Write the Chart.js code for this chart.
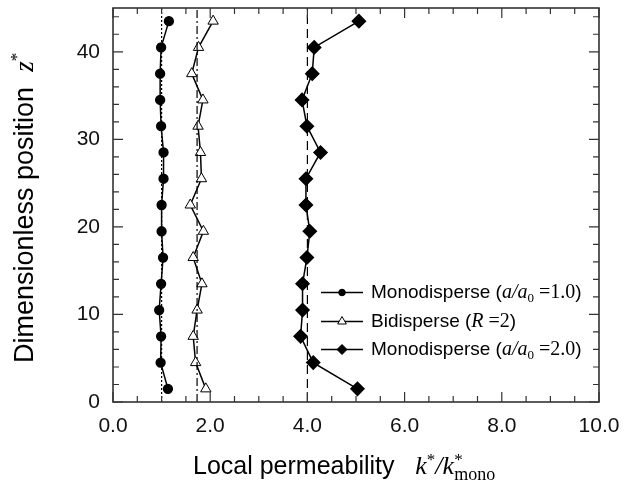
<!DOCTYPE html>
<html>
<head>
<meta charset="utf-8">
<script src="https://cdn.jsdelivr.net/npm/chart.js@4.4.1/dist/chart.umd.min.js"></script>
<style>
  html, body { margin: 0; padding: 0; background: #fff; }
  #wrap { width: 626px; height: 490px; }
</style>
</head>
<body>
<div id="wrap"><canvas id="permChart" width="626" height="490"></canvas></div>
<script>
// dimensionless position z* of every sample
var zPos = [1.5, 4.5, 7.5, 10.5, 13.5, 16.5, 19.5, 22.5, 25.5, 28.5, 31.5, 34.5, 37.5, 40.5, 43.5];
// local permeability k*/k*mono, bottom to top
var mono10 = [1.13, 0.98, 0.99, 0.95, 0.99, 1.03, 1.00, 1.00, 1.04, 1.04, 0.99, 0.97, 0.97, 0.99, 1.15];
var bidisp = [1.91, 1.70, 1.65, 1.73, 1.83, 1.65, 1.86, 1.59, 1.82, 1.80, 1.75, 1.85, 1.62, 1.76, 2.06];
var mono20 = [5.03, 4.12, 3.86, 3.90, 3.90, 3.99, 4.05, 3.97, 3.97, 4.27, 3.99, 3.89, 4.10, 4.14, 5.06];
// vertical reference lines
var refX = [1.0, 1.73, 4.0];
var refDash = [[2, 2], [8, 3, 2, 3], [9, 5]];
var xTicks = [0, 2, 4, 6, 8, 10];
var yTicks = [0, 10, 20, 30, 40];

var SANS = 'Liberation Sans';
var SERIF = 'Liberation Serif';

function pts(xs) {
  return xs.map(function (v, i) { return { x: v, y: zPos[i] }; });
}

var datasets = [];
refX.forEach(function (v, i) {
  datasets.push({
    label: 'ref' + i,
    data: [{ x: v, y: 0 }, { x: v, y: 45 }],
    showLine: true, borderColor: '#000', borderWidth: 1.2,
    borderDash: refDash[i], pointRadius: 0, pointHoverRadius: 0
  });
});
datasets.push({
  label: 'Monodisperse (a/a0 =1.0)', data: pts(mono10), showLine: true,
  borderColor: '#000', borderWidth: 1.5, pointStyle: 'circle', pointRadius: 4.4,
  pointBackgroundColor: '#000', pointBorderColor: '#000'
});
datasets.push({
  label: 'Bidisperse (R =2)', data: pts(bidisp), showLine: true,
  borderColor: '#000', borderWidth: 1.5, pointStyle: 'triangle', pointRadius: 6,
  pointBackgroundColor: '#fff', pointBorderColor: '#000', pointBorderWidth: 1
});
datasets.push({
  label: 'Monodisperse (a/a0 =2.0)', data: pts(mono20), showLine: true,
  borderColor: '#000', borderWidth: 1.5, pointStyle: 'rectRot', pointRadius: 6.5,
  pointBackgroundColor: '#000', pointBorderColor: '#000'
});

// rich text pieces for legend and titles
var legendRows = [
  [{ t: 'Monodisperse (', f: '19px ' + SANS }, { t: 'a', f: 'italic 20px ' + SERIF }, { t: '/', f: 'italic 20px ' + SERIF },
   { t: 'a', f: 'italic 20px ' + SERIF }, { t: '0', f: '13px ' + SERIF, dy: 4 }, { t: ' =1.0', f: '20px ' + SERIF }, { t: ')', f: '19px ' + SANS }],
  [{ t: 'Bidisperse (', f: '19px ' + SANS }, { t: 'R', f: 'italic 20px ' + SERIF }, { t: ' =2', f: '20px ' + SERIF }, { t: ')', f: '19px ' + SANS }],
  [{ t: 'Monodisperse (', f: '19px ' + SANS }, { t: 'a', f: 'italic 20px ' + SERIF }, { t: '/', f: 'italic 20px ' + SERIF },
   { t: 'a', f: 'italic 20px ' + SERIF }, { t: '0', f: '13px ' + SERIF, dy: 4 }, { t: ' =2.0', f: '20px ' + SERIF }, { t: ')', f: '19px ' + SANS }]
];
var xTitle = [
  { t: 'Local permeability   ', f: '25px ' + SANS },
  { t: 'k', f: 'italic 26px ' + SERIF }, { t: '*', f: '17px ' + SERIF, dy: -9 },
  { t: '/', f: 'italic 26px ' + SERIF }, { t: 'k', f: 'italic 26px ' + SERIF },
  { t: '*', f: '17px ' + SERIF, dy: -9, stay: true }, { t: 'mono', f: '18px ' + SERIF, dy: 6 }
];
var yTitle = [
  { t: 'Dimensionless position  ', f: '27px ' + SANS },
  { t: 'z', f: 'italic 27px ' + SERIF }, { t: '*', f: '17px ' + SERIF, dy: -11 }
];

function drawRich(ctx, parts, x, y) {
  ctx.textBaseline = 'alphabetic';
  ctx.textAlign = 'left';
  parts.forEach(function (p) {
    ctx.font = p.f;
    ctx.fillText(p.t, x, y + (p.dy || 0));
    if (!p.stay) x += ctx.measureText(p.t).width;
  });
}

function drawMarker(ctx, ds, x, y, r) {
  ctx.save();
  ctx.fillStyle = ds.pointBackgroundColor;
  ctx.strokeStyle = ds.pointBorderColor;
  ctx.lineWidth = 1;
  ctx.beginPath();
  if (ds.pointStyle === 'circle') {
    ctx.arc(x, y, r, 0, Math.PI * 2);
  } else if (ds.pointStyle === 'triangle') {
    ctx.moveTo(x, y - r);
    ctx.lineTo(x + r * 0.87, y + r * 0.5);
    ctx.lineTo(x - r * 0.87, y + r * 0.5);
    ctx.closePath();
  } else {
    ctx.moveTo(x, y - r); ctx.lineTo(x + r, y); ctx.lineTo(x, y + r); ctx.lineTo(x - r, y);
    ctx.closePath();
  }
  ctx.fill();
  ctx.stroke();
  ctx.restore();
}

var decorPlugin = {
  id: 'decor',
  afterDraw: function (chart) {
    var ctx = chart.ctx, a = chart.chartArea;
    var xs = chart.scales.x, ys = chart.scales.y;
    ctx.save();
    // frame
    ctx.strokeStyle = '#333';
    ctx.lineWidth = 1.6;
    ctx.strokeRect(a.left, a.top, a.right - a.left, a.bottom - a.top);
    // inward ticks on all sides
    ctx.lineWidth = 1.2;
    ctx.beginPath();
    for (var v = 0; v <= 10.001; v += 0.5) {
      var px = xs.getPixelForValue(v);
      var len = (Math.abs(v % 2) < 0.01) ? 10 : 6;
      ctx.moveTo(px, a.bottom); ctx.lineTo(px, a.bottom - len);
      ctx.moveTo(px, a.top); ctx.lineTo(px, a.top + len);
    }
    for (var w = 0; w <= 45; w += 2) {
      var py = ys.getPixelForValue(w);
      var l2 = (w % 10 === 0) ? 10 : 6;
      ctx.moveTo(a.left, py); ctx.lineTo(a.left + l2, py);
      ctx.moveTo(a.right, py); ctx.lineTo(a.right - l2, py);
    }
    ctx.stroke();

    // legend
    ctx.fillStyle = '#000';
    var rowY = [292.5, 321.5, 349.5];
    for (var i = 0; i < 3; i++) {
      var ds = chart.data.datasets[3 + i];
      ctx.strokeStyle = '#000';
      ctx.lineWidth = 1.3;
      ctx.beginPath();
      ctx.moveTo(321, rowY[i]); ctx.lineTo(363, rowY[i]);
      ctx.stroke();
      drawMarker(ctx, ds, 342, rowY[i], ds.pointStyle === 'circle' ? 3.3 : 5);
      ctx.fillStyle = '#000';
      drawRich(ctx, legendRows[i], 371, rowY[i] + 5);
    }

    // axis titles
    drawRich(ctx, xTitle, 193, 474);
    ctx.translate(33, 363);
    ctx.rotate(-Math.PI / 2);
    drawRich(ctx, yTitle, 0, 0);
    ctx.restore();
  }
};

new Chart(document.getElementById('permChart'), {
  type: 'scatter',
  data: { datasets: datasets },
  options: {
    responsive: false,
    animation: false,
    layout: { padding: { top: 7, right: 27, left: 0, bottom: 0 } },
    plugins: { legend: { display: false }, tooltip: { enabled: false } },
    scales: {
      x: {
        type: 'linear', min: 0, max: 10,
        afterFit: function (s) { s.height = 88; s.paddingLeft = 0; s.paddingRight = 0; },
        afterBuildTicks: function (s) { s.ticks = xTicks.map(function (v) { return { value: v }; }); },
        grid: { display: false, drawTicks: false },
        border: { display: false },
        ticks: {
          padding: 12, color: '#111', maxRotation: 0,
          font: { family: SANS, size: 21 },
          callback: function (v) { return Number(v).toFixed(1); }
        }
      },
      y: {
        type: 'linear', min: 0, max: 45,
        afterFit: function (s) { s.width = 113; s.paddingTop = 0; s.paddingBottom = 0; },
        afterBuildTicks: function (s) { s.ticks = yTicks.map(function (v) { return { value: v }; }); },
        grid: { display: false, drawTicks: false },
        border: { display: false },
        ticks: {
          padding: 13, color: '#111',
          font: { family: SANS, size: 21 }
        }
      }
    }
  },
  plugins: [decorPlugin]
});
</script>
</body>
</html>
